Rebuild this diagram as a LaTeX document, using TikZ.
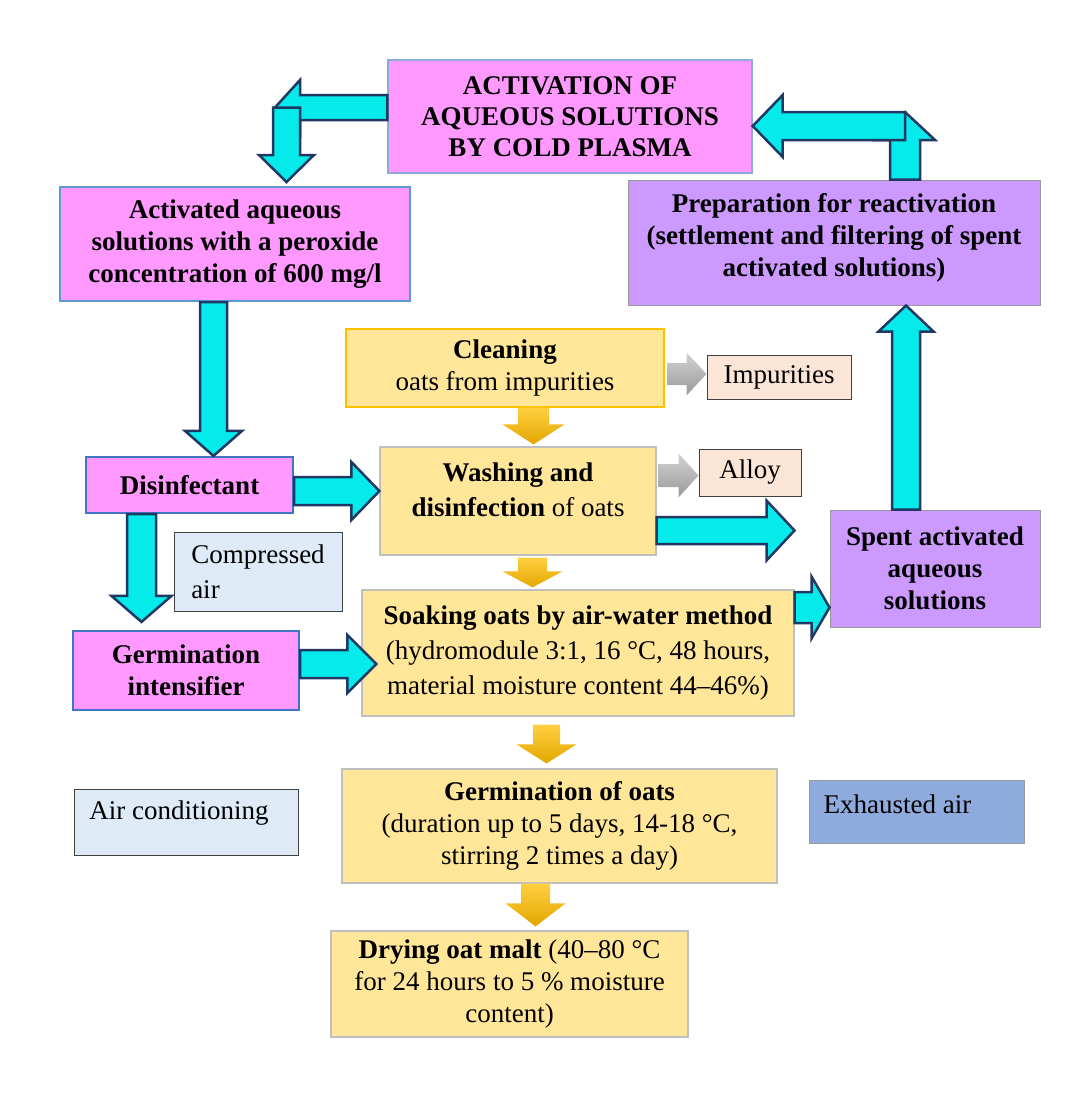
\documentclass[tikz,border=0pt]{standalone}
\usepackage{fontspec}
\setmainfont{Liberation Serif}
\usepackage{tikz}
\usetikzlibrary{calc, positioning}

\definecolor{plasmapink}{HTML}{FF99FF}
\definecolor{spentlilac}{HTML}{CC99FF}
\definecolor{oatyellow}{HTML}{FFE699}
\definecolor{wastepeach}{HTML}{FBE5D6}
\definecolor{airblue}{HTML}{DEEBF7}
\definecolor{exhblue}{HTML}{8FAADC}
\definecolor{flowcyan}{HTML}{05EAEA}
\definecolor{flownavy}{HTML}{203864}
\definecolor{edgeblue}{HTML}{4472C4}
\definecolor{edgesky}{HTML}{5B9BD5}
\definecolor{edgesoft}{HTML}{8EA9DB}
\definecolor{edgegold}{HTML}{FFC000}
\definecolor{edgegray}{HTML}{BFBFBF}
\definecolor{edgedark}{HTML}{404040}
\definecolor{goldtop}{HTML}{FFD040}
\definecolor{goldbot}{HTML}{E3A600}

\newcommand{\flowfont}{\fontsize{27}{32}\selectfont}
\newcommand{\actfont}{\fontsize{27}{31}\selectfont}
\newcommand{\wideflowfont}{\fontsize{27}{35}\selectfont}

\tikzset{boxsz/.style 2 args={minimum width=#1pt, minimum height=#2pt}}

% block arrow: [style]{from}{tip}{shaft half width}{head half width}{head length}
\newcommand{\blockarrow}[6][cyanarr]{%
  \coordinate (bah) at ($(#3)!#6!(#2)$);
  \draw[#1] ($(#2)!#4!90:(#3)$) -- ($(bah)!#4!-90:(#2)$) -- ($(bah)!#5!-90:(#2)$)
    -- (#3) -- ($(bah)!#5!90:(#2)$) -- ($(bah)!#4!90:(#2)$)
    -- ($(#2)!#4!-90:(#3)$) -- cycle;
}

\begin{document}
\begin{tikzpicture}[x=1pt, y=-1pt]
  \tikzstyle{box}=[inner sep=0pt, align=center, font=\flowfont]
  \tikzstyle{pinkbox}=[box, fill=plasmapink, draw=edgeblue, line width=2.2pt]
  \tikzstyle{lilacbox}=[box, fill=spentlilac, draw=edgegray!80!black, line width=1pt]
  \tikzstyle{oatbox}=[box, fill=oatyellow, draw=edgegray, line width=1.2pt]
  \tikzstyle{wastebox}=[box, fill=wastepeach, draw=edgedark, line width=1pt]
  \tikzstyle{airbox}=[box, fill=airblue, draw=edgedark, line width=1pt]
  \tikzstyle{txt}=[inner sep=0pt, align=center, font=\flowfont]
  \tikzstyle{cyanarr}=[fill=flowcyan, draw=flownavy, line width=2.5pt, line join=miter]
  \tikzstyle{goldarr}=[top color=goldtop, bottom color=goldbot, draw=none]
  \tikzstyle{grayarr}=[top color=gray!35, bottom color=gray!80, draw=none]

  \useasboundingbox (0,0) rectangle (1083,1100);

  %% Boxes
  % plasma side
  \node[pinkbox, draw=edgesoft, line width=1.4pt, font=\actfont, boxsz={364}{113}] (act) at (570,116.5)
    {\textbf{ACTIVATION OF}\\\textbf{AQUEOUS SOLUTIONS}\\\textbf{BY COLD PLASMA}};
  \node[pinkbox, draw=edgesky, line width=2pt, boxsz={350}{114}] (sol) at (235,244)
    {\textbf{Activated aqueous}\\\textbf{solutions with a peroxide}\\\textbf{concentration of 600 mg/l}};
  \node[pinkbox, boxsz={207}{56}] (dis) at (189.5,485) {\textbf{Disinfectant}};
  \node[pinkbox, boxsz={226}{79}] (intens) at (186,670.5) {\textbf{Germination}\\\textbf{intensifier}};

  % spent solutions
  \node[lilacbox, boxsz={412}{125}] (prep) at (834,242.5) {};
  \node[txt] (preptxt) at (834,238)
    {\textbf{Preparation for reactivation}\\\textbf{(settlement and filtering of spent}\\\textbf{activated solutions)}};
  \node[lilacbox, boxsz={210}{117}] (spent) at (935,568.5)
    {\textbf{Spent activated}\\\textbf{aqueous}\\\textbf{solutions}};

  % oats line
  \node[oatbox, draw=edgegold, boxsz={318}{78}] (clean) at (505,368)
    {\textbf{Cleaning}\\oats from impurities};
  \node[oatbox, boxsz={276}{108}] (wash) at (518,501) {};
  \node[txt, font=\wideflowfont] (washtxt) at (518,490)
    {\textbf{Washing and}\\\textbf{disinfection} of oats};
  \node[oatbox, font=\wideflowfont, boxsz={432}{126}] (soak) at (578,653)
    {\textbf{Soaking oats by air-water method}\\(hydromodule 3:1, 16 °C, 48 hours,\\material moisture content 44–46\%)};
  \node[oatbox, boxsz={435}{114}] (germ) at (559.5,826)
    {\textbf{Germination of oats}\\(duration up to 5 days, 14-18 °C,\\stirring 2 times a day)};
  \node[oatbox, boxsz={357}{106}] (dry) at (509.5,984)
    {\textbf{Drying oat malt} (40–80 °C\\for 24 hours to 5 \% moisture\\content)};

  % waste and air
  \node[wastebox, boxsz={144}{44}] (imp) at (779,377) {Impurities};
  \node[wastebox, boxsz={102}{47}] (alloy) at (750,472.5) {Alloy};
  \node[airbox, align=left, font=\wideflowfont, boxsz={168}{79}] (comp) at (258,571.5) {Compressed\\air};
  \node[airbox, boxsz={224}{66}] (aircon) at (186,822) {};
  \node[txt] (aircontxt) at (179,813) {Air conditioning};
  \node[box, fill=exhblue, draw=edgegray!80!black, line width=1pt, boxsz={215}{63}] (exh) at (916.5,811.5) {};
  \node[txt] (exhtxt) at (897.5,804) {Exhausted air};

  %% Arrows
  % return loop to the plasma unit
  \coordinate (elbowL) at (286.5,107.5);
  \coordinate (elbowR) at (905,126);
  \coordinate (a1t) at ($(elbowL)+(-11.5,0)$);
  \coordinate (a1d) at ($(elbowL |- sol.north)+(0,-4)$);
  \coordinate (a2t) at ($(elbowR)+(0,-14)$);
  \coordinate (a1s) at ($(act.west)+(0,-9)$);
  \coordinate (a2s) at (prep.north -| elbowR);
  \blockarrow{a1s}{a1t}{12.5pt}{27.5pt}{25pt}
  \blockarrow{elbowL}{a1d}{13.5pt}{27.5pt}{27pt}
  \blockarrow{a2s}{a2t}{15pt}{30pt}{28pt}
  \blockarrow{elbowR}{act.east |- elbowR}{14pt}{31pt}{30pt}

  % solutions into the process
  \coordinate (a3) at ($(sol.south)+(-21.5,0)$);
  \blockarrow{a3}{a3 |- dis.north}{13.5pt}{28.5pt}{25pt}
  \coordinate (a4) at ($(dis.east)+(0,6)$);
  \blockarrow{a4}{a4 -| wash.west}{14pt}{29pt}{28pt}
  \coordinate (a5) at ($(dis.south)+(-48,0)$);
  \coordinate (a5t) at ($(a5 |- intens.north)+(0,-8)$);
  \blockarrow{a5}{a5t}{14.5pt}{30pt}{26pt}
  \coordinate (a6) at ($(intens.east)+(0,-6.5)$);
  \coordinate (a6t) at ($(a6 -| soak.west)+(15,0)$);
  \blockarrow{a6}{a6t}{14pt}{29pt}{29pt}

  % spent solutions out
  \coordinate (a7) at ($(wash.east)+(0,29.5)$);
  \coordinate (a7t) at ($(a7 -| spent.west)+(-35,0)$);
  \blockarrow{a7}{a7t}{13.5pt}{30pt}{28pt}
  \coordinate (a8) at ($(soak.east)+(0,-45.5)$);
  \blockarrow{a8}{a8 -| spent.west}{15.5pt}{31pt}{18pt}
  \coordinate (a9) at ($(spent.north)+(-29,0)$);
  \blockarrow{a9}{a9 |- prep.south}{14pt}{27.5pt}{26pt}

  % main oat line
  \coordinate (g1) at ($(clean.south)+(28.5,0)$);
  \coordinate (g1t) at ($(g1 |- wash.north)+(0,-2)$);
  \blockarrow[goldarr]{g1}{g1t}{15.5pt}{31pt}{20pt}
  \coordinate (g2) at ($(wash.south)+(14.5,2)$);
  \coordinate (g2t) at ($(g2 |- soak.north)+(0,-2)$);
  \blockarrow[goldarr]{g2}{g2t}{14.5pt}{30pt}{16pt}
  \coordinate (g3) at ($(soak.south)+(-31.5,8)$);
  \coordinate (g3t) at ($(g3 |- germ.north)+(0,-5)$);
  \blockarrow[goldarr]{g3}{g3t}{13.5pt}{30pt}{19pt}
  \coordinate (g4) at ($(germ.south)+(-24,0)$);
  \coordinate (g4t) at ($(g4 |- dry.north)+(0,-4)$);
  \blockarrow[goldarr]{g4}{g4t}{14.5pt}{30pt}{23pt}

  % waste
  \coordinate (r1) at ($(clean.east)+(3,6)$);
  \blockarrow[grayarr]{r1}{r1 -| imp.west}{11pt}{21.5pt}{20pt}
  \coordinate (r2) at ($(wash.east)+(2,-25.5)$);
  \blockarrow[grayarr]{r2}{r2 -| alloy.west}{11.5pt}{22pt}{20pt}
\end{tikzpicture}
\end{document}
